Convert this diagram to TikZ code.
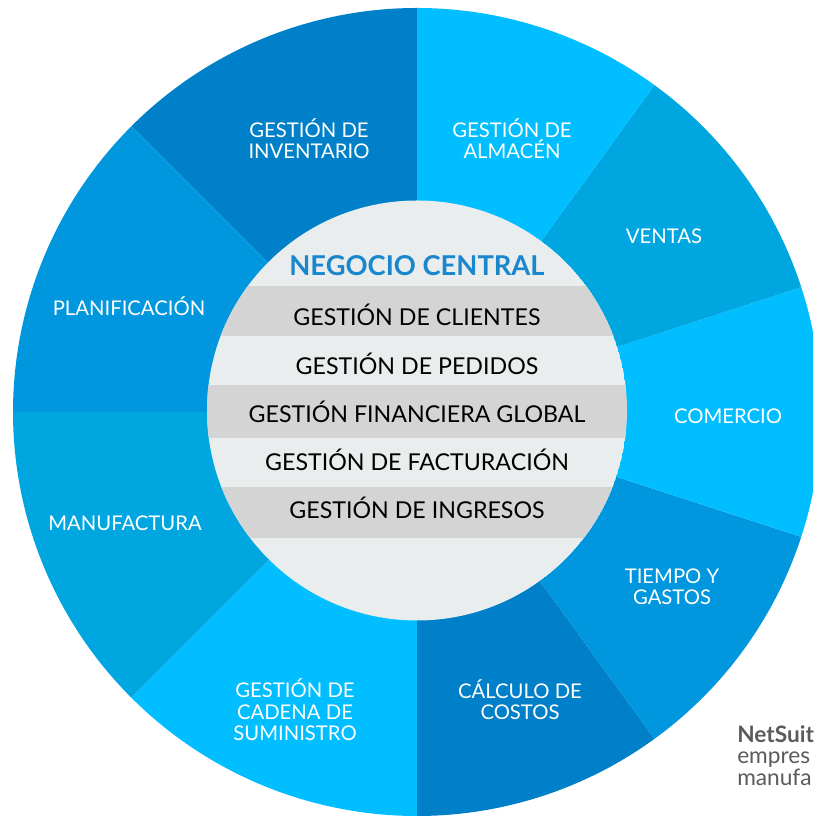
\documentclass[tikz,border=0pt]{standalone}
\usepackage{fontspec}
\setmainfont{Lato}
\definecolor{dkblue}{HTML}{0080C8}
\definecolor{cyanb}{HTML}{00BEFF}
\definecolor{midcyan}{HTML}{00A6DF}
\definecolor{medblue}{HTML}{0097DF}
\definecolor{lightgray}{HTML}{E9EDEE}
\definecolor{stripe}{HTML}{D4D4D4}
\definecolor{headblue}{HTML}{1A86CC}
\definecolor{notegray}{HTML}{5A5B5D}
\tikzset{
  outerlbl/.style={text=white, align=center, inner sep=0pt,
    font=\fontsize{15.2}{16}\selectfont},
  innerlbl/.style={text=black, inner sep=0pt,
    font=\fontsize{17.4}{19}\selectfont},
  headlbl/.style={text=headblue, inner sep=0pt,
    font=\bfseries\fontsize{20.5}{22}\selectfont},
  notelbl/.style={text=notegray, inner sep=0pt, anchor=base west,
    font=\fontsize{17}{18}\selectfont},
}
\newcommand{\wsector}[3]{%
  \fill[#3] (C) -- ([shift={(C)}]#1:404) arc[start angle=#1, end angle=#2, radius=404] -- cycle;}
\begin{document}
\begin{tikzpicture}[x=0.75pt,y=0.75pt]
\useasboundingbox (0,0) rectangle (813,816);
\clip (0,0) rectangle (813,816);
\coordinate (C) at (417,404);
\coordinate (I) at (417,405.5);
% outer wheel
\wsector{90}{135}{dkblue}
\wsector{135}{180}{medblue}
\wsector{180}{225}{midcyan}
\wsector{225}{270}{cyanb}
\wsector{-90}{-54}{dkblue}
\wsector{-54}{-18}{medblue}
\wsector{-18}{18}{cyanb}
\wsector{18}{54}{midcyan}
\wsector{54}{90}{cyanb}
% inner circle
\begin{scope}
  \clip (I) circle[radius=210];
  \fill[lightgray] (I) circle[radius=210];
  \fill[stripe] (190,480.3) rectangle (640,530.3);
  \fill[stripe] (190,378.3) rectangle (640,431);
  \fill[stripe] (190,277.5) rectangle (640,329.3);
\end{scope}
% inner labels
\node[headlbl] (head) at (417,550) {NEGOCIO CENTRAL};
\node[innerlbl] (cli) at (417,501) {GESTIÓN DE CLIENTES};
\node[innerlbl] (ped) at (417,452) {GESTIÓN DE PEDIDOS};
\node[innerlbl] (fin) at (417,404) {GESTIÓN FINANCIERA GLOBAL};
\node[innerlbl] (fac) at (417,356) {GESTIÓN DE FACTURACIÓN};
\node[innerlbl] (ing) at (417,308) {GESTIÓN DE INGRESOS};
% outer labels
\node[outerlbl] (inv) at (309,677) {GESTIÓN DE\\INVENTARIO};
\node[outerlbl] (alm) at (512,677) {GESTIÓN DE\\ALMACÉN};
\node[outerlbl] (ven) at (664,580) {VENTAS};
\node[outerlbl] (com) at (728,400) {COMERCIO};
\node[outerlbl] (tie) at (672,229) {TIEMPO Y\\GASTOS};
\node[outerlbl] (cos) at (520,116) {CÁLCULO DE\\COSTOS};
\node[outerlbl] (cad) at (295,106) {GESTIÓN DE\\CADENA DE\\SUMINISTRO};
\node[outerlbl] (man) at (125,293) {MANUFACTURA};
\node[outerlbl] (pla) at (129,510) {PLANIFICACIÓN};
% note at bottom right
\node[notelbl, font=\bfseries\fontsize{17}{18}\selectfont] (n1) at (737,73) {NetSuit};
\node[notelbl] (n2) at (737,52) {empres};
\node[notelbl] (n3) at (737,30) {manufa};
\end{tikzpicture}
\end{document}
